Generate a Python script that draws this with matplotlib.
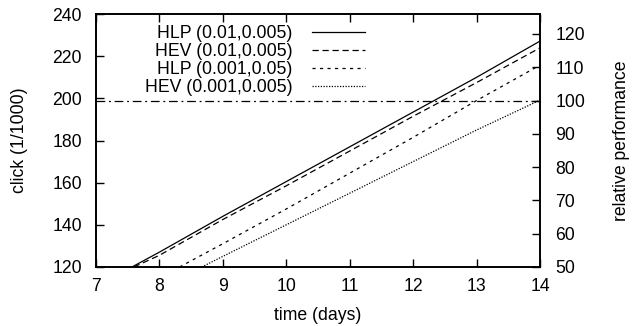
import matplotlib
matplotlib.use("Agg")
import matplotlib.pyplot as plt

plt.rcParams['font.family'] = ['Liberation Sans', 'DejaVu Sans']
plt.rcParams['font.size'] = 12.7

# series (x = day, y = click per 1000)
days_hlp1 = [7.57, 8, 9, 10, 11, 12, 13, 14]
hlp1 = [120, 127, 144, 160.5, 177, 193.5, 210, 227.2]
days_hev1 = [7.6, 8, 9, 10, 11, 12, 13, 14]
hev1 = [120, 125.5, 142.5, 158.5, 175, 191.5, 207.5, 224]
days_hlp2 = [8.32, 9, 10, 11, 12, 13, 14]
hlp2 = [120, 131, 147.5, 164.5, 181.5, 199, 215.8]
days_hev2 = [8.67, 9, 10, 11, 12, 13, 14]
hev2 = [120, 125, 140, 155, 170, 185, 199.2]

labels = ["HLP (0.01,0.005)", "HEV (0.01,0.005)", "HLP (0.001,0.05)", "HEV (0.001,0.005)"]
baseline = 100

fig = plt.figure(figsize=(6.34, 3.26), dpi=100)
ax = fig.add_axes([0.151, 0.181, 0.701, 0.776])

lw = 0.9
ax.plot(days_hlp1, hlp1, color='black', lw=lw, ls='-', label=labels[0])
ax.plot(days_hev1, hev1, color='black', lw=lw, ls=(0, (5, 3)), label=labels[1])
ax.plot(days_hlp2, hlp2, color='black', lw=lw, ls=(0, (2.5, 3.5)), label=labels[2])
ax.plot(days_hev2, hev2, color='black', lw=lw, ls=(0, (1, 1.2)), label=labels[3])

ax.set_xlim(7, 14)
ax.set_ylim(120, 240)
ax.set_xticks(range(7, 15))
ax.set_yticks(range(120, 241, 20))
ax.set_xlabel("time (days)", labelpad=8.5)
ax.set_ylabel("click (1/1000)", labelpad=17)
ax.tick_params(direction='in', length=6, width=1, top=True, right=False, pad=8)
ax.tick_params(axis='y', pad=10)

ax2 = ax.twinx()
ax2.set_ylim(50, 126)
ax2.set_yticks(range(50, 121, 10))
ax2.axhline(baseline, color='black', lw=lw, ls=(0, (7, 3, 1.5, 3)))
ax2.set_ylabel("relative performance", labelpad=20)
ax2.tick_params(direction='in', length=6, width=1, pad=11)

for a in (ax, ax2):
    for s in a.spines.values():
        s.set_linewidth(1.2)

leg = ax.legend(loc='upper left', bbox_to_anchor=(0.085, 1.0), frameon=False,
                markerfirst=False, handlelength=3.0, handletextpad=1.1,
                labelspacing=0.05, borderaxespad=0.25)

fig.savefig("out.png", dpi=100)
